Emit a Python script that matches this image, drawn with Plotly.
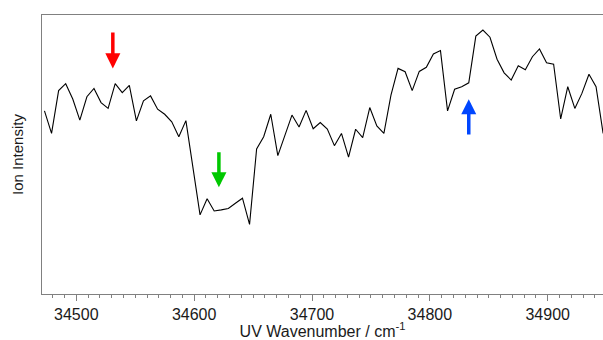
import plotly.graph_objects as go

# UV wavenumber (cm^-1)
wavenumber = [
    34473, 34479, 34485, 34491, 34497, 34503, 34509, 34515, 34521, 34527,
    34533, 34539, 34545, 34551, 34557, 34563, 34569, 34575, 34581, 34587,
    34593, 34599, 34605, 34611, 34617, 34623, 34629, 34635, 34641, 34647,
    34653, 34659, 34665, 34671, 34677, 34683, 34689, 34695, 34701, 34707,
    34713, 34719, 34725, 34731, 34737, 34743, 34749, 34755, 34761, 34767,
    34773, 34779, 34785, 34791, 34797, 34803, 34809, 34815, 34821, 34827,
    34833, 34839, 34845, 34851, 34857, 34863, 34869, 34875, 34881, 34887,
    34893, 34899, 34905, 34911, 34917, 34923, 34929, 34935, 34941, 34947,
]

# Ion intensity (arbitrary units)
intensity = [
    0.655, 0.574, 0.728, 0.753, 0.698, 0.622, 0.706, 0.736, 0.685, 0.664,
    0.753, 0.721, 0.747, 0.619, 0.691, 0.709, 0.661, 0.643, 0.616, 0.562,
    0.620, 0.450, 0.281, 0.339, 0.295, 0.299, 0.304, 0.323, 0.341, 0.247,
    0.518, 0.562, 0.643, 0.494, 0.568, 0.640, 0.597, 0.657, 0.591, 0.613,
    0.590, 0.530, 0.574, 0.489, 0.589, 0.559, 0.667, 0.601, 0.574, 0.712,
    0.808, 0.796, 0.728, 0.797, 0.812, 0.860, 0.872, 0.655, 0.733, 0.742,
    0.756, 0.924, 0.946, 0.920, 0.841, 0.792, 0.766, 0.817, 0.803, 0.850,
    0.878, 0.828, 0.823, 0.626, 0.742, 0.664, 0.718, 0.787, 0.742, 0.574,
]

# Marker arrows: position, tip level, tail level, colour
arrow_x = [34531, 34621, 34833]
arrow_tip = [0.808, 0.380, 0.697]
arrow_tail = [0.942, 0.512, 0.565]
arrow_color = ["#ff0000", "#00c800", "#0046ff"]

x_ticks = [34500, 34600, 34700, 34800, 34900]

FONT = "Liberation Sans, Arial, sans-serif"

fig = go.Figure()
fig.add_trace(go.Scatter(
    x=wavenumber, y=intensity, mode="lines",
    line=dict(color="black", width=1.1), hoverinfo="skip", showlegend=False,
))

for xa, yt, yb, c in zip(arrow_x, arrow_tip, arrow_tail, arrow_color):
    fig.add_annotation(
        x=xa, y=yt, ax=xa, ay=yb, xref="x", yref="y", axref="x", ayref="y",
        text="", showarrow=True, arrowhead=2, arrowwidth=3.5, arrowsize=0.86,
        arrowcolor=c, standoff=0,
    )

fig.update_layout(
    width=603, height=340,
    margin=dict(l=42, r=0, t=15, b=46),
    paper_bgcolor="white", plot_bgcolor="white",
    font=dict(family=FONT, size=16, color="#1a1a1a"),
    xaxis=dict(
        range=[34470.9, 34946.9],
        tickvals=x_ticks, ticktext=[str(v) for v in x_ticks],
        ticks="outside", ticklen=6, tickwidth=1, tickcolor="#808080",
        minor=dict(dtick=10, ticks="outside", ticklen=3, tickcolor="#808080", tickwidth=1),
        showline=True, linecolor="#808080", linewidth=1, mirror=True,
        showgrid=False, zeroline=False,
        tickfont=dict(family=FONT, size=16, color="#1a1a1a"),
        title=dict(text="UV Wavenumber / cm<sup>-1</sup>", standoff=7,
                   font=dict(family=FONT, size=16, color="#1a1a1a")),
    ),
    yaxis=dict(
        range=[-0.0036, 1.0],
        showticklabels=False, ticks="",
        showline=True, linecolor="#808080", linewidth=1,
        showgrid=False, zeroline=False,
        title=dict(text="Ion Intensity", standoff=13,
                   font=dict(family=FONT, size=15, color="#1a1a1a")),
    ),
)

fig.write_html("out.html")
